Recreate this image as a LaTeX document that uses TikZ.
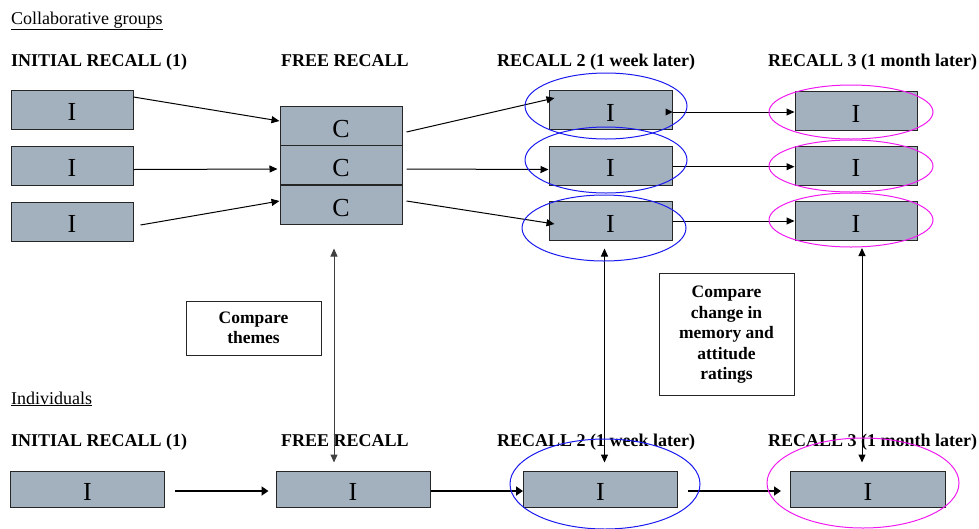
\documentclass[tikz,border=0pt]{standalone}
\usepackage{fontspec}
\setmainfont{Liberation Serif}
\usetikzlibrary{arrows.meta}
\definecolor{boxfill}{HTML}{A3B1BF}
\definecolor{ellblue}{HTML}{1A1AF0}
\definecolor{ellmag}{HTML}{F01AF0}
\begin{document}
\begin{tikzpicture}[x=1pt,y=-1pt,
  box/.style={draw=black!85,line width=1pt,fill=boxfill,minimum width=122pt,minimum height=39pt,inner sep=0pt,
    font=\fontsize{26}{26}\selectfont,text height=22.8pt,text depth=0pt},
  cbox/.style={box,text height=23.6pt},
  wbox/.style={box,minimum width=154pt,minimum height=36pt},
  hdr/.style={font=\bfseries\fontsize{18}{20}\selectfont,inner sep=0pt,anchor=base west},
  sec/.style={font=\fontsize{18}{20}\selectfont,inner sep=0pt,anchor=base west},
  note/.style={draw=black!85,line width=1pt,inner sep=0pt,align=center,font=\bfseries\fontsize{17.5}{20.5}\selectfont,minimum width=135pt},
  arr/.style={line width=1pt,-{Triangle[length=8pt,width=7pt]}},
  varr/.style={line width=1pt,{Triangle[length=8pt,width=7pt]}-{Triangle[length=8pt,width=7pt]}},
  barr/.style={line width=2pt,-{Triangle[length=7pt,width=9pt]}},
  bell/.style={draw=ellblue,line width=1pt},
  mell/.style={draw=ellmag,line width=1pt}]
\useasboundingbox (0,0) rectangle (979,528);

% section titles and headers
\node[sec] (collab) at (11,24) {\underline{Collaborative groups}};
\node[hdr] (h1a) at (11,66) {INITIAL RECALL (1)};
\node[hdr] (h1b) at (281,66) {FREE RECALL};
\node[hdr] (h1c) at (497,66) {RECALL 2 (1 week later)};
\node[hdr] (h1d) at (768,66) {RECALL 3 (1 month later)};

\node[sec] (indiv) at (11,404) {\underline{Individuals}};
\node[hdr] (h2a) at (11,446.5) {INITIAL RECALL (1)};
\node[hdr] (h2b) at (281,446.5) {FREE RECALL};
\node[hdr] (h2c) at (497,446.5) {RECALL 2 (1 week later)};
\node[hdr] (h2d) at (768,446.5) {RECALL 3 (1 month later)};

% collaborative boxes
\node[box] (L1) at (72,109.5) {I};
\node[box] (L2) at (72,165.5) {I};
\node[box] (L3) at (72,221.5) {I};

\node[cbox] (C1) at (341,125.5) {C};
\node[cbox] (C2) at (341,165) {C};
\node[cbox] (C3) at (341,204.5) {C};

\node[box,minimum width=123pt] (R2a) at (610.5,110) {I};
\node[box,minimum width=123pt] (R2b) at (610.5,165.5) {I};
\node[box,minimum width=123pt] (R2c) at (610.5,221) {I};

\node[box] (R3a) at (856,111) {I};
\node[box] (R3b) at (856,165.5) {I};
\node[box] (R3c) at (856,221) {I};

% individual boxes
\node[wbox] (B1) at (87.5,489) {I};
\node[wbox] (B2) at (353,489) {I};
\node[wbox] (B3) at (600.5,489) {I};
\node[wbox,minimum width=155pt] (B4) at (868,489) {I};

% notes
\node[note,minimum height=54pt] (n1) at (253.5,328) {Compare\\themes};
\node[note,minimum height=122pt] (n2) at (726.5,334.7) {Compare\\change in\\memory and\\attitude\\ratings};

% arrows initial -> free
\draw[arr] ([yshift=12.5pt]L1.east) -- ([yshift=4.5pt]C1.west);
\draw[arr] ([yshift=-4pt]L2.east) -- ([xshift=-2pt,yshift=-4pt]C2.west);
\draw[arr] ([xshift=7pt,yshift=-3.5pt]L3.east) -- ([yshift=3.5pt]C3.west);

% free -> recall 2
\draw[arr] ([xshift=4pt,yshift=-6.5pt]C1.east) -- ([xshift=6pt,yshift=12pt]R2a.west);
\draw[arr] ([xshift=4pt,yshift=-4pt]C2.east) -- ([yshift=-4pt]R2b.west);
\draw[arr] ([xshift=4pt,yshift=3.5pt]C3.east) -- ([xshift=6pt,yshift=-3pt]R2c.west);

% recall 2 -> recall 3
\draw[arr] ([yshift=-2pt]R2a.east) -- ([yshift=-1pt]R3a.west);
\fill ([yshift=-2pt]R2a.east) -- ++(-7,-3.5) -- ++(0,7) -- cycle;
\draw[arr] ([yshift=-1.2pt]R2b.east) -- ([yshift=-1.2pt]R3b.west);
\draw[arr] (R2c.east) -- (R3c.west);

% vertical comparisons
\draw[varr,draw=black!75] ([xshift=-7pt,yshift=-24pt]C3.south) -- ([xshift=-19pt,yshift=8pt]B2.north);
\draw[varr] ([xshift=-6pt,yshift=-7.5pt]R2c.south) -- ([xshift=4pt,yshift=8pt]B3.north);
\draw[varr] ([xshift=6pt,yshift=-7pt]R3c.south) -- ([xshift=-6pt,yshift=8pt]B4.north);

% individual arrows
\draw[barr] ([xshift=10pt,yshift=-2pt]B1.east) -- ([xshift=-7pt,yshift=-2pt]B2.west);
\draw[barr] ([yshift=-2pt]B2.east) -- ([yshift=-2pt]B3.west);
\draw[barr] ([xshift=10pt,yshift=-2pt]B3.east) -- ([xshift=-9pt,yshift=-2pt]B4.west);

% ellipses
\draw[bell] (606,106) ellipse [x radius=81, y radius=33];
\draw[bell] (606,160) ellipse [x radius=81, y radius=33];
\draw[bell] (604,228) ellipse [x radius=82, y radius=33];
\draw[mell] (851,112) ellipse [x radius=82, y radius=27];
\draw[mell] (851,166) ellipse [x radius=82, y radius=26];
\draw[mell] (851,220) ellipse [x radius=82, y radius=27];
\draw[bell] (605,484) ellipse [x radius=95, y radius=45];
\draw[mell] (863,483) ellipse [x radius=96, y radius=45];
\end{tikzpicture}
\end{document}
